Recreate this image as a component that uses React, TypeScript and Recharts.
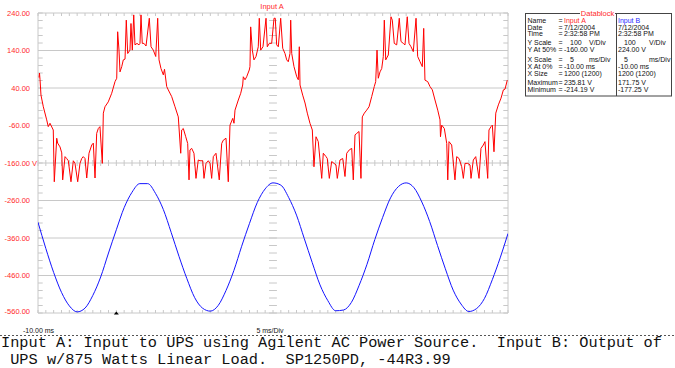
import React from "react";
import {
  LineChart,
  Line,
  XAxis,
  YAxis,
  CartesianGrid,
  ReferenceLine,
  ReferenceDot,
} from "recharts";

// axis ticks (ms / V)
const timeTicks = [-10, -5, 0, 5, 10, 15, 20, 25, 30, 35, 40, 45, 50];
const voltTicks = [240, 140, 40, -60, -160, -260, -360, -460, -560];
const minorTimes = Array.from({ length: 61 }, (_, i) => i - 10);
const minorVolts = Array.from({ length: 41 }, (_, i) => -560 + i * 20);

// Input A: UPS input (red)
const redTime = [
  -9.87, -9.81, -9.74, -9.62, -9.32, -8.89, -8.69, -8.47, -8.05, -7.92,
  -7.61, -7.49, -7.19, -6.97, -6.85, -6.55, -6.34, -6.13, -5.79, -5.49,
  -5.28, -4.93, -4.64, -4.42, -4.22, -4.0, -3.78, -3.49, -3.14, -2.94,
  -2.72, -2.51, -2.3, -2.09, -1.79, -1.66, -1.45, -1.03, -0.59, -0.17,
  0.05, 0.17, 0.34, 0.47, 0.69, 0.89, 1.11, 1.27, 1.45, 1.74,
  1.87, 2.04, 2.22, 2.38, 2.64, 2.89, 3.02, 3.15, 3.31, 3.53,
  3.79, 4.21, 4.43, 4.72, 5.03, 5.28, 5.45, 5.7, 6.0, 6.15,
  6.43, 6.63, 7.07, 7.49, 7.91, 8.22, 8.34, 8.55, 8.86, 9.11,
  9.28, 9.4, 9.62, 9.91, 10.17, 10.46, 10.68, 11.03, 11.19, 11.45,
  11.74, 11.96, 12.17, 12.38, 12.72, 13.14, 13.45, 13.66, 14.0, 14.29,
  14.51, 14.86, 15.02, 15.15, 15.57, 15.88, 16.13, 16.21, 16.43, 16.64,
  16.97, 17.06, 17.15, 17.36, 17.57, 17.83, 18.12, 18.25, 18.43, 18.72,
  19.11, 19.27, 19.53, 19.83, 20.13, 20.29, 20.47, 20.68, 20.98, 21.24,
  21.53, 21.75, 21.95, 22.17, 22.26, 22.39, 22.68, 23.03, 23.23, 23.36,
  23.45, 23.79, 24.09, 24.38, 24.72, 25.02, 25.23, 25.49, 25.78, 26.22,
  26.42, 26.77, 26.93, 27.19, 27.49, 27.79, 28.04, 28.21, 28.55, 28.9,
  29.19, 29.41, 29.74, 30.05, 30.25, 30.47, 30.69, 30.98, 31.23, 31.4,
  31.66, 31.96, 32.26, 32.6, 32.93, 33.11, 33.28, 33.44, 33.66, 33.88,
  34.08, 34.21, 34.39, 34.72, 35.06, 35.23, 35.48, 35.79, 36.12, 36.34,
  36.63, 36.85, 37.14, 37.36, 37.62, 37.91, 38.26, 38.47, 38.77, 39.06,
  39.24, 39.4, 39.75, 40.04, 40.34, 40.68, 41.03, 41.32, 41.38, 41.54,
  41.87, 42.18, 42.31, 42.47, 42.81, 43.23, 43.45, 43.75, 44.09, 44.3,
  44.51, 44.86, 45.15, 45.28, 45.57, 45.88, 46.3, 46.55, 46.85, 47.06,
  47.41, 47.57, 47.83, 48.0, 48.21, 48.44, 48.77, 49.11, 49.41, 49.62,
  49.91,
];
const redVolts = [
  68, 80, 62, 21, -10, -45, -63, -54, -72, -210,
  -94, -107, -117, -133, -205, -143, -148, -154, -210, -154,
  -161, -210, -161, -148, -143, -148, -200, -134, -112, -107,
  -200, -81, -68, -63, -161, -27, -10, 3, 26, 57,
  66, 190, 141, 83, 97, 115, 117, 221, 132, 141,
  212, 141, 235, 155, 159, 155, 159, 235, 159, 159,
  152, 226, 150, 141, 124, 226, 115, 92, 75, 90,
  44, 35, 17, -10, -37, -134, -72, -68, -90, -108,
  -205, -125, -121, -134, -201, -152, -154, -154, -201, -161,
  -154, -161, -201, -143, -134, -205, -108, -99, -94, -210,
  -59, -41, -54, -19, 8, 26, 48, 70, 62, 70,
  88, 97, 203, 141, 115, 124, 150, 226, 141, 150,
  226, 150, 159, 159, 226, 226, 155, 150, 226, 146,
  132, 115, 110, 132, 221, 132, 97, 70, 62, 150,
  48, 21, 0, -27, -54, -72, -170, -90, -103, -201,
  -134, -143, -148, -201, -156, -161, -165, -201, -152, -148,
  -196, -134, -125, -121, -205, -85, -81, -76, -201, -37,
  -27, -19, -10, 17, 44, 57, 141, 66, 83, 92,
  124, 221, 115, 128, 230, 221, 159, 155, 226, 164,
  159, 155, 230, 159, 150, 137, 226, 124, 110, 97,
  199, 61, 57, 44, 35, 8, -19, -45, -90, -59,
  -68, -108, -205, -103, -112, -205, -143, -148, -170, -201,
  -161, -161, -165, -201, -152, -143, -201, -121, -112, -103,
  -201, -72, -63, -59, -130, -27, -5, 13, 35, 37,
  61,
];

// Input B: UPS output (blue), volts
const blueTime = [
  -10, -9, -8, -7, -6, -5, -4, -3, -2, -1, 0, 1, 2, 3, 4, 5, 6, 7, 8, 9,
  10, 11, 12, 13, 14, 15, 16, 17, 18, 19, 20, 21, 22, 23, 24, 25, 26, 27, 28, 29,
  30, 31, 32, 33, 34, 35, 36, 37, 38, 39, 40, 41, 42, 43, 44, 45, 46, 47, 48, 49,
  50,
];
const blueVolts = [
  66, -4, -68, -121, -157, -173, -163, -129, -80, -16,
  46, 105, 146, 169, 169, 143, 100, 39, -25, -84,
  -135, -163, -171, -156, -116, -63, 2, 63, 119, 155,
  171, 165, 132, 85, 22, -41, -101, -143, -170, -168,
  -148, -102, -46, 20, 79, 131, 161, 171, 158, 120,
  68, 4, -58, -115, -152, -172, -164, -137, -87, -29,
  36,
];

// Input B is drawn with its own offset: 224 V sits at screen centre (-160)
const SCREEN_MID = -160;
const B_AT_50 = 224;

const datablock = [
  { label: "Name", a: "Input A", b: "Input B" },
  { label: "Date", a: "7/12/2004", b: "7/12/2004" },
  { label: "Time", a: "2:32:58 PM", b: "2:32:58 PM" },
  { label: "Y Scale", a: "100", au: "V/Div", b: "100", bu: "V/Div" },
  { label: "Y At 50%", a: "-160.00 V", b: "224.00 V" },
  { label: "X Scale", a: "5", au: "ms/Div", b: "5", bu: "ms/Div" },
  { label: "X At 0%", a: "-10.00 ms", b: "-10.00 ms" },
  { label: "X Size", a: "1200 (1200)", b: "1200 (1200)" },
  { label: "Maximum", a: "235.81 V", b: "171.75 V" },
  { label: "Minimum", a: "-214.19 V", b: "-177.25 V" },
];

const redData = redTime.map((t, i) => ({ t, v: redVolts[i] }));
const blueData = blueTime.map((t, i) => ({
  t,
  v: blueVolts[i] + SCREEN_MID - B_AT_50,
}));

const GRID = "#c8c8c8";
const SANS = "'Liberation Sans', Arial, sans-serif";

function VoltTick(props: any) {
  const { x, y, payload } = props;
  return (
    <g>
      <text x={x} y={y + 2.6} textAnchor="end" fontSize={7.5} fill="#ff2a2a" fontFamily={SANS}>
        {payload.value.toFixed(2)}
      </text>
      {payload.value === -160 && (
        <text x={x + 2} y={y + 2.6} fontSize={7.5} fill="#ff2a2a" fontFamily={SANS}>
          V
        </text>
      )}
    </g>
  );
}

const rowY = [23, 29.7, 36.4, 45, 52.4, 62.4, 69, 75.7, 85, 92.4];

export default function App() {
  return (
    <div style={{ position: "absolute", left: 0, top: 0, width: 675, height: 368, background: "#fff" }}>
      <LineChart width={675} height={320} margin={{ top: 13, right: 167, bottom: 6, left: 0 }}>
        <CartesianGrid stroke={GRID} strokeWidth={1} />
        <XAxis
          type="number"
          dataKey="t"
          domain={[-10, 50]}
          ticks={timeTicks}
          allowDataOverflow
          height={1}
          tick={false}
          axisLine={false}
          tickLine={false}
        />
        <YAxis
          type="number"
          domain={[-560, 240]}
          ticks={voltTicks}
          allowDataOverflow
          width={38}
          axisLine={false}
          tickLine={false}
          tick={<VoltTick />}
        />
        {minorTimes.map((t) => (
          <ReferenceLine key={"tt" + t} segment={[{ x: t, y: 240 }, { x: t, y: 232 }]} stroke={GRID} />
        ))}
        {minorTimes.map((t) => (
          <ReferenceLine key={"tb" + t} segment={[{ x: t, y: -560 }, { x: t, y: -552 }]} stroke={GRID} />
        ))}
        {minorTimes.map((t) => (
          <ReferenceLine key={"tc" + t} segment={[{ x: t, y: -168 }, { x: t, y: -152 }]} stroke={GRID} />
        ))}
        {minorVolts.map((v) => (
          <ReferenceLine key={"vl" + v} segment={[{ x: -10, y: v }, { x: -9.4, y: v }]} stroke={GRID} />
        ))}
        {minorVolts.map((v) => (
          <ReferenceLine key={"vr" + v} segment={[{ x: 49.4, y: v }, { x: 50, y: v }]} stroke={GRID} />
        ))}
        {minorVolts.map((v) => (
          <ReferenceLine key={"vc" + v} segment={[{ x: 19.5, y: v }, { x: 20.5, y: v }]} stroke={GRID} />
        ))}
        <Line
          data={redData}
          dataKey="v"
          type="linear"
          stroke="#ff0000"
          strokeWidth={1}
          dot={false}
          isAnimationActive={false}
        />
        <Line
          data={blueData}
          dataKey="v"
          type="monotone"
          stroke="#1414ff"
          strokeWidth={1}
          dot={false}
          isAnimationActive={false}
        />
        <ReferenceDot
          x={0}
          y={-560}
          r={3}
          shape={(p: any) => (
            <path d={`M${p.cx - 2.5},${p.cy + 1.5} L${p.cx + 2.5},${p.cy + 1.5} L${p.cx},${p.cy - 1.5} Z`} fill="#000" />
          )}
        />
      </LineChart>

      <svg width={675} height={368} style={{ position: "absolute", left: 0, top: 0, pointerEvents: "none" }}>
        <text x={272} y={8.5} textAnchor="middle" fontSize={7.5} fill="#ff2a2a" fontFamily={SANS}>
          Input A
        </text>

        <rect x={525.5} y={13.5} width={146} height={82.5} fill="none" stroke="#444" strokeWidth={1} />
        <line x1={616.5} y1={13.5} x2={616.5} y2={96} stroke="#444" strokeWidth={1} />
        <rect x={580} y={9} width={35} height={9} fill="#fff" />
        <text x={597.5} y={16} textAnchor="middle" fontSize={7.5} fill="#ff2a2a" fontFamily={SANS}>
          Datablock
        </text>
        {datablock.map((r, i) => (
          <g key={r.label} fontSize={7} fontFamily={SANS} fill="#111" style={{ whiteSpace: "pre" }}>
            <text x={527.5} y={rowY[i]}>{r.label}</text>
            <text x={558.5} y={rowY[i]}>=</text>
            <text x={r.au ? 570 : 564} y={rowY[i]} fill={i === 0 ? "#ff2a2a" : "#111"}>
              {r.a}
            </text>
            {r.au && <text x={589} y={rowY[i]}>{r.au}</text>}
            <text x={r.bu ? 624 : 618} y={rowY[i]} fill={i === 0 ? "#2a2aff" : "#111"}>
              {r.b}
            </text>
            {r.bu && <text x={649} y={rowY[i]}>{r.bu}</text>}
          </g>
        ))}

        <text x={23} y={333} fontSize={7} fill="#111" fontFamily={SANS}>
          -10.00 ms
        </text>
        <text x={270} y={333} textAnchor="middle" fontSize={7} fill="#111" fontFamily={SANS}>
          5 ms/Div
        </text>
        <line x1={0} y1={335.5} x2={675} y2={335.5} stroke="#555" strokeDasharray="2 2" />
      </svg>

      <div
        style={{
          position: "absolute",
          left: 1,
          top: 335,
          fontFamily: "'Liberation Mono', 'Courier New', monospace",
          fontSize: 15.3,
          lineHeight: "16.5px",
          color: "#111",
          whiteSpace: "pre",
        }}
      >
        {"Input A: Input to UPS using Agilent AC Power Source.  Input B: Output of\n UPS w/875 Watts Linear Load.  SP1250PD, -44R3.99"}
      </div>
    </div>
  );
}
